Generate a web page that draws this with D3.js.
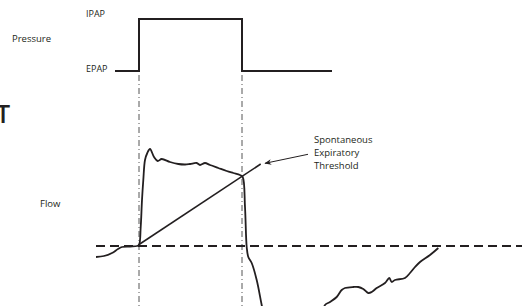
<!DOCTYPE html>
<html>
<head>
<meta charset="utf-8">
<script src="https://cdn.jsdelivr.net/npm/d3@7"></script>
<style>
  body { margin: 0; background: #fff; }
  svg { display: block; }
  text { font-family: "Open Sans", sans-serif; fill: #231f20; }
</style>
</head>
<body>
<div id="chart"></div>
<script>
var width = 530, height = 306;

// time in seconds, pressure in cmH2O, flow in L/min
var pressureTime = [0.19, 0.43, 0.43, 1.46, 1.46, 2.36];
var pressureVal  = [5, 5, 15, 15, 5, 5];
var cycleTimes = [0.43, 1.46];

var flowTime = [0, 0.08, 0.16, 0.22, 0.26, 0.34, 0.41, 0.43, 0.447, 0.46, 0.473, 0.49, 0.513, 0.54,
    0.58, 0.617, 0.657, 0.74, 0.823, 0.89, 0.94, 1.007, 1.04, 1.09, 1.14, 1.223, 1.307, 1.373,
    1.44, 1.467, 1.49, 1.507, 1.523, 1.557, 1.607, 1.657, 1.72, 1.95, 2.24, 2.29,
    2.34, 2.407, 2.457, 2.49, 2.573, 2.623, 2.673, 2.723, 2.757, 2.807, 2.89, 2.933, 2.957,
    2.99, 3.09, 3.14, 3.19, 3.24, 3.34, 3.423];
var flowVal = [-11, -10, -7, -3, -1, -0.5, 0, 1, 19, 46, 66, 86, 93, 97,
    89, 85, 87, 84, 82, 81.5, 82, 83, 81, 83, 81, 78, 75, 73,
    71, 69, 39, -1, -11, -17, -34, -59, -90, -120, -74, -59,
    -56, -51, -44, -42, -41, -41, -43, -47, -46, -42, -37, -32, -36,
    -34, -32, -27, -21, -16, -9, -2];

var zeroLine = [0, 4.26];
var thresholdTime = [0.423, 1.647];
var thresholdFlow = [1, 82];
var arrowTail = [2.12, 91.7], arrowTip = [1.69, 82.7];
var thresholdLabel = ["Spontaneous", "Expiratory", "Threshold"];

var x = d3.scaleLinear().domain([0, 4.3]).range([96, 526]);
var yP = d3.scaleLinear().domain([5, 15]).range([71, 19]);
var yF = d3.scaleLinear().domain([-60, 100]).range([306, 146]);

var svg = d3.select("#chart").append("svg")
    .attr("width", width).attr("height", height);

svg.append("defs").append("marker")
    .attr("id", "arrow")
    .attr("viewBox", "0 0 10 10")
    .attr("refX", 9).attr("refY", 5)
    .attr("markerWidth", 7).attr("markerHeight", 7)
    .attr("markerUnits", "userSpaceOnUse")
    .attr("orient", "auto")
    .append("path").attr("d", "M0,1 L10,5 L0,9 L3,5 Z").attr("fill", "#231f20");

// cycle markers
svg.selectAll(".cycle")
    .data(cycleTimes)
    .enter().append("line")
    .attr("x1", d => x(d)).attr("x2", d => x(d))
    .attr("y1", 75).attr("y2", height)
    .attr("stroke", "#555").attr("stroke-width", 1)
    .attr("stroke-dasharray", "6,3,1,3");

// zero flow
svg.append("line")
    .attr("x1", x(zeroLine[0])).attr("x2", x(zeroLine[1]))
    .attr("y1", yF(0)).attr("y2", yF(0))
    .attr("stroke", "#231f20").attr("stroke-width", 1.8)
    .attr("stroke-dasharray", "9,5");

// pressure
var pline = d3.line().x((d, i) => x(pressureTime[i])).y(d => yP(d));
svg.append("path")
    .attr("d", pline(pressureVal))
    .attr("fill", "none").attr("stroke", "#231f20").attr("stroke-width", 2);

// flow
var fline = d3.line().x((d, i) => x(flowTime[i])).y(d => yF(d)).curve(d3.curveCatmullRom.alpha(0.5));
svg.append("path")
    .attr("d", fline(flowVal))
    .attr("fill", "none").attr("stroke", "#231f20").attr("stroke-width", 1.8);

// threshold
svg.append("line")
    .attr("x1", x(thresholdTime[0])).attr("y1", yF(thresholdFlow[0]))
    .attr("x2", x(thresholdTime[1])).attr("y2", yF(thresholdFlow[1]))
    .attr("stroke", "#231f20").attr("stroke-width", 1.6);

svg.append("line")
    .attr("x1", x(arrowTail[0])).attr("y1", yF(arrowTail[1]))
    .attr("x2", x(arrowTip[0])).attr("y2", yF(arrowTip[1]))
    .attr("stroke", "#231f20").attr("stroke-width", 1)
    .attr("marker-end", "url(#arrow)");

svg.selectAll(".thr")
    .data(thresholdLabel)
    .enter().append("text")
    .attr("x", 314).attr("y", (d, i) => 143 + i * 13)
    .attr("font-size", 9.5)
    .text(d => d);

// labels
svg.append("text").attr("x", 86).attr("y", 17).attr("font-size", 9).text("IPAP");
svg.append("text").attr("x", 12).attr("y", 41.5).attr("font-size", 9.5).text("Pressure");
svg.append("text").attr("x", 86).attr("y", 72).attr("font-size", 9).text("EPAP");
svg.append("text").attr("x", 40).attr("y", 206.5).attr("font-size", 9.5).text("Flow");
// letter cut by the left edge, as in the original
svg.append("text").attr("x", 3).attr("y", 123).attr("font-size", 25)
    .attr("font-weight", 600)
    .attr("text-anchor", "middle").text("T");
</script>
</body>
</html>
